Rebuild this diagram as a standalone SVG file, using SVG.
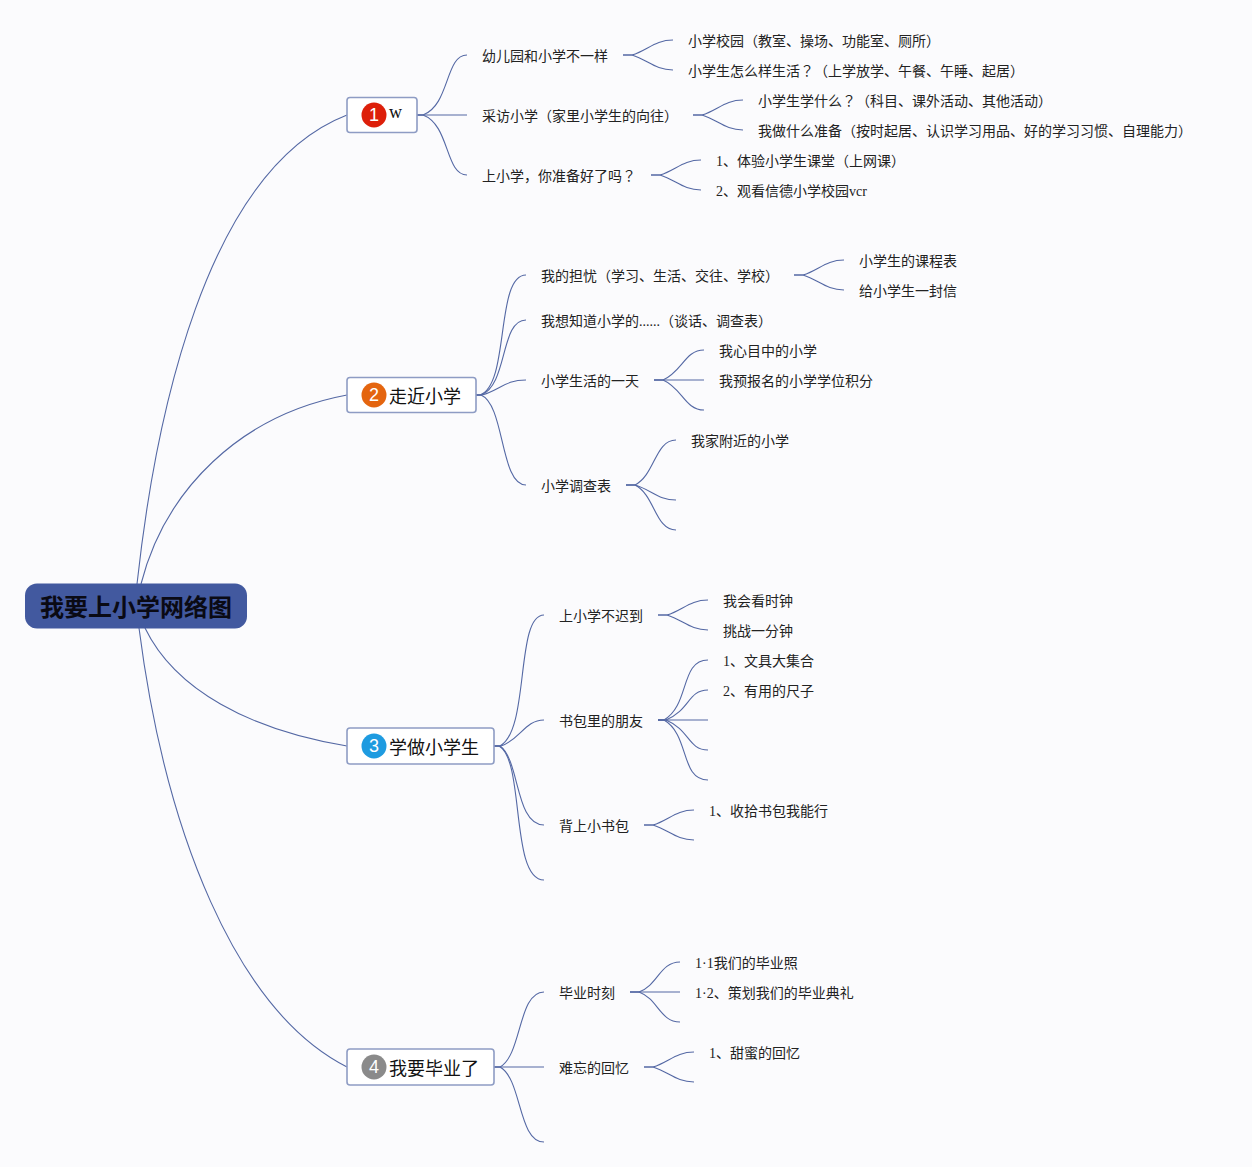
<svg xmlns="http://www.w3.org/2000/svg" width="1252" height="1167" viewBox="0 0 1252 1167">
<style>
text{font-family:"Liberation Serif","Noto Sans CJK SC",serif;fill:#222}
.t{font-size:14px}
.b{font-size:18px;fill:#111}
.q{font-family:"Noto Sans CJK JP",sans-serif}
.n{font-family:"Liberation Sans","Noto Sans CJK SC",sans-serif;font-size:18px;fill:#fff;text-anchor:middle}
.box{fill:#fff;stroke:#8e9cc4;stroke-width:1.6}
#conn path{fill:none;stroke:#5468a4;stroke-width:1.1}
</style>
<rect width="1252" height="1167" fill="#fbfbfd"/>
<g id="conn">
<path d="M137 584C155 420 205 170 347 115"/>
<path d="M141 584C165 490 240 415 347 395"/>
<path d="M145 628C175 690 250 730 347 746"/>
<path d="M139 628C165 830 235 1010 347 1067"/>
<path d="M417 115H423C450 105 445 55 467 55"/>
<path d="M417 115H467"/>
<path d="M417 115H423C450 125 445 175 467 175"/>
<path d="M623 55H632C648 50 655 40 673 40"/>
<path d="M623 55H632C648 60 655 70 673 70"/>
<path d="M693 115H702C718 110 725 100 743 100"/>
<path d="M693 115H702C718 120 725 130 743 130"/>
<path d="M651 175H660C676 170 683 160 701 160"/>
<path d="M651 175H660C676 180 683 190 701 190"/>
<path d="M476 395H480C510 385 495 275 526 275"/>
<path d="M476 395H481C508 385 500 320 526 320"/>
<path d="M476 395H482C500 390 505 380 526 380"/>
<path d="M476 395H481C505 405 500 485 526 485"/>
<path d="M794 275H803C819 270 826 260 844 260"/>
<path d="M794 275H803C819 280 826 290 844 290"/>
<path d="M654 380H663C682 372 685 350 704 350"/>
<path d="M654 380H704"/>
<path d="M654 380H663C682 388 685 410 704 410"/>
<path d="M626 485H635C655 475 655 440 676 440"/>
<path d="M626 485H635C652 490 658 500 676 500"/>
<path d="M626 485H635C655 495 655 530 676 530"/>
<path d="M494 746H500C530 730 515 615 544 615"/>
<path d="M494 746H501C520 740 525 720 544 720"/>
<path d="M494 746H500C520 760 515 825 544 825"/>
<path d="M494 746H499C525 760 510 880 544 880"/>
<path d="M658 615H667C683 610 690 600 708 600"/>
<path d="M658 615H667C683 620 690 630 708 630"/>
<path d="M658 720H664C690 705 680 660 708 660"/>
<path d="M658 720H666C690 710 688 690 708 690"/>
<path d="M658 720H708"/>
<path d="M658 720H666C690 730 688 750 708 750"/>
<path d="M658 720H664C690 735 680 780 708 780"/>
<path d="M644 825H653C669 820 676 810 694 810"/>
<path d="M644 825H653C669 830 676 840 694 840"/>
<path d="M494 1067H500C522 1055 518 992 544 992"/>
<path d="M494 1067H544"/>
<path d="M494 1067H500C522 1079 518 1142 544 1142"/>
<path d="M630 992H639C658 985 660 962 680 962"/>
<path d="M630 992H680"/>
<path d="M630 992H639C658 999 660 1022 680 1022"/>
<path d="M644 1067H653C669 1062 676 1052 694 1052"/>
<path d="M644 1067H653C669 1072 676 1082 694 1082"/>
</g>
<g id="root"><rect x="25" y="583.500" width="222" height="45" rx="12" fill="#42599f"/><text x="40" y="616" style="font-size:24px;font-weight:700;fill:#0a0a14;font-family:'Noto Sans CJK SC',sans-serif">我要上小学网络图</text></g>
<g id="n1"><rect class="box" x="347" y="97.500" width="70" height="35" rx="3"/><circle cx="374" cy="115" r="12.500" fill="#dd1f0a"/><text class="n" x="374" y="121">1</text><text x="389" y="118" style="font-size:18px;fill:#111">w</text></g>
<g id="n2"><rect class="box" x="347" y="377.500" width="129" height="35" rx="3"/><circle cx="374" cy="395" r="12.500" fill="#e4650f"/><text class="n" x="374" y="401">2</text><text class="b" x="389" y="403">走近小学</text></g>
<g id="n3"><rect class="box" x="347" y="728" width="147" height="36" rx="3"/><circle cx="374" cy="746" r="12.500" fill="#1e9be0"/><text class="n" x="374" y="752">3</text><text class="b" x="389" y="754">学做小学生</text></g>
<g id="n4"><rect class="box" x="347" y="1049" width="147" height="36" rx="3"/><circle cx="374" cy="1067" r="12.500" fill="#8a8a8a"/><text class="n" x="374" y="1073">4</text><text class="b" x="389" y="1075">我要毕业了</text></g>
<g id="labels" class="t">
<text class="t" x="482" y="61">幼儿园和小学不一样</text>
<text class="t" x="482" y="121">采访小学（家里小学生的向往）</text>
<text class="t" x="482" y="181">上小学，你准备好了吗<tspan class="q">？</tspan></text>
<text class="t" x="688" y="46">小学校园（教室、操场、功能室、厕所）</text>
<text class="t" x="688" y="76">小学生怎么样生活<tspan class="q">？</tspan>（上学放学、午餐、午睡、起居）</text>
<text class="t" x="758" y="106">小学生学什么<tspan class="q">？</tspan>（科目、课外活动、其他活动）</text>
<text class="t" x="758" y="136">我做什么准备（按时起居、认识学习用品、好的学习习惯、自理能力）</text>
<text class="t" x="716" y="166">1、体验小学生课堂（上网课）</text>
<text class="t" x="716" y="196">2、观看信德小学校园vcr</text>
<text class="t" x="541" y="281">我的担忧（学习、生活、交往、学校）</text>
<text class="t" x="541" y="326">我想知道小学的......（谈话、调查表）</text>
<text class="t" x="541" y="386">小学生活的一天</text>
<text class="t" x="541" y="491">小学调查表</text>
<text class="t" x="859" y="266">小学生的课程表</text>
<text class="t" x="859" y="296">给小学生一封信</text>
<text class="t" x="719" y="356">我心目中的小学</text>
<text class="t" x="719" y="386">我预报名的小学学位积分</text>
<text class="t" x="691" y="446">我家附近的小学</text>
<text class="t" x="559" y="621">上小学不迟到</text>
<text class="t" x="559" y="726">书包里的朋友</text>
<text class="t" x="559" y="831">背上小书包</text>
<text class="t" x="723" y="606">我会看时钟</text>
<text class="t" x="723" y="636">挑战一分钟</text>
<text class="t" x="723" y="666">1、文具大集合</text>
<text class="t" x="723" y="696">2、有用的尺子</text>
<text class="t" x="709" y="816">1、收拾书包我能行</text>
<text class="t" x="559" y="998">毕业时刻</text>
<text class="t" x="559" y="1073">难忘的回忆</text>
<text class="t" x="695" y="968">1·1我们的毕业照</text>
<text class="t" x="695" y="998">1·2、策划我们的毕业典礼</text>
<text class="t" x="709" y="1058">1、甜蜜的回忆</text>
</g>
</svg>
